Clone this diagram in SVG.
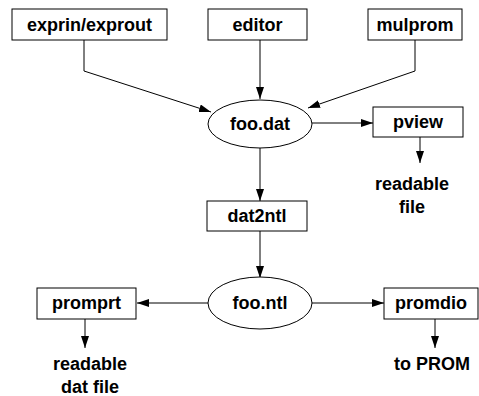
<svg xmlns="http://www.w3.org/2000/svg" width="479" height="396" viewBox="0 0 479 396">
<defs>
<style>
.box{fill:#fff;stroke:#000;stroke-width:1}
.ell{fill:#fff;stroke:#000;stroke-width:1}
.t{font-family:"Liberation Sans",Arial,sans-serif;font-weight:bold;font-size:18px;text-anchor:middle;fill:#000}
.c{fill:none;stroke:#000;stroke-width:1;marker-end:url(#ah)}
</style>
<marker id="ah" markerWidth="12" markerHeight="8" refX="12" refY="4" orient="auto" markerUnits="userSpaceOnUse">
<path d="M0,0 L12,4 L0,8 Z" fill="#000"/>
</marker>
</defs>
<rect width="479" height="396" fill="#fff"/>
<g id="connectors">
<polyline class="c" points="84,40 84,71 211,112"/>
<line class="c" x1="260" y1="40" x2="260" y2="99"/>
<polyline class="c" points="415,40 415,71 308,108"/>
<line class="c" x1="312" y1="123" x2="373" y2="123"/>
<line class="c" x1="420" y1="137" x2="420" y2="163"/>
<line class="c" x1="260" y1="148" x2="260" y2="201"/>
<line class="c" x1="260" y1="231" x2="260" y2="278"/>
<line class="c" x1="208" y1="303" x2="137" y2="303"/>
<line class="c" x1="312" y1="303" x2="384" y2="303"/>
<line class="c" x1="85" y1="319" x2="85" y2="348"/>
<line class="c" x1="435" y1="319" x2="435" y2="348"/>
</g>
<g id="exprin"><rect class="box" x="12" y="9" width="155" height="31"/><text class="t" x="89.5" y="31">exprin/exprout</text></g>
<g id="editor"><rect class="box" x="208" y="9" width="99" height="31"/><text class="t" x="257.5" y="31">editor</text></g>
<g id="mulprom"><rect class="box" x="368" y="9" width="94" height="31"/><text class="t" x="415" y="31">mulprom</text></g>
<g id="foodat"><ellipse class="ell" cx="260" cy="124" rx="52" ry="24"/><text class="t" x="260" y="130">foo.dat</text></g>
<g id="pview"><rect class="box" x="373" y="107" width="90" height="30"/><text class="t" x="418" y="128">pview</text></g>
<g id="readable1"><text class="t" x="412" y="190">readable</text><text class="t" x="412" y="213">file</text></g>
<g id="dat2ntl"><rect class="box" x="207" y="201" width="100" height="30"/><text class="t" x="257" y="222">dat2ntl</text></g>
<g id="foontl"><ellipse class="ell" cx="260" cy="303" rx="52" ry="26"/><text class="t" x="260" y="309">foo.ntl</text></g>
<g id="promprt"><rect class="box" x="37" y="288" width="99" height="31"/><text class="t" x="86.5" y="309">promprt</text></g>
<g id="promdio"><rect class="box" x="384" y="288" width="94" height="31"/><text class="t" x="431" y="309">promdio</text></g>
<g id="readable2"><text class="t" x="90" y="370">readable</text><text class="t" x="90" y="393">dat file</text></g>
<g id="toprom"><text class="t" x="432" y="370">to PROM</text></g>
</svg>
